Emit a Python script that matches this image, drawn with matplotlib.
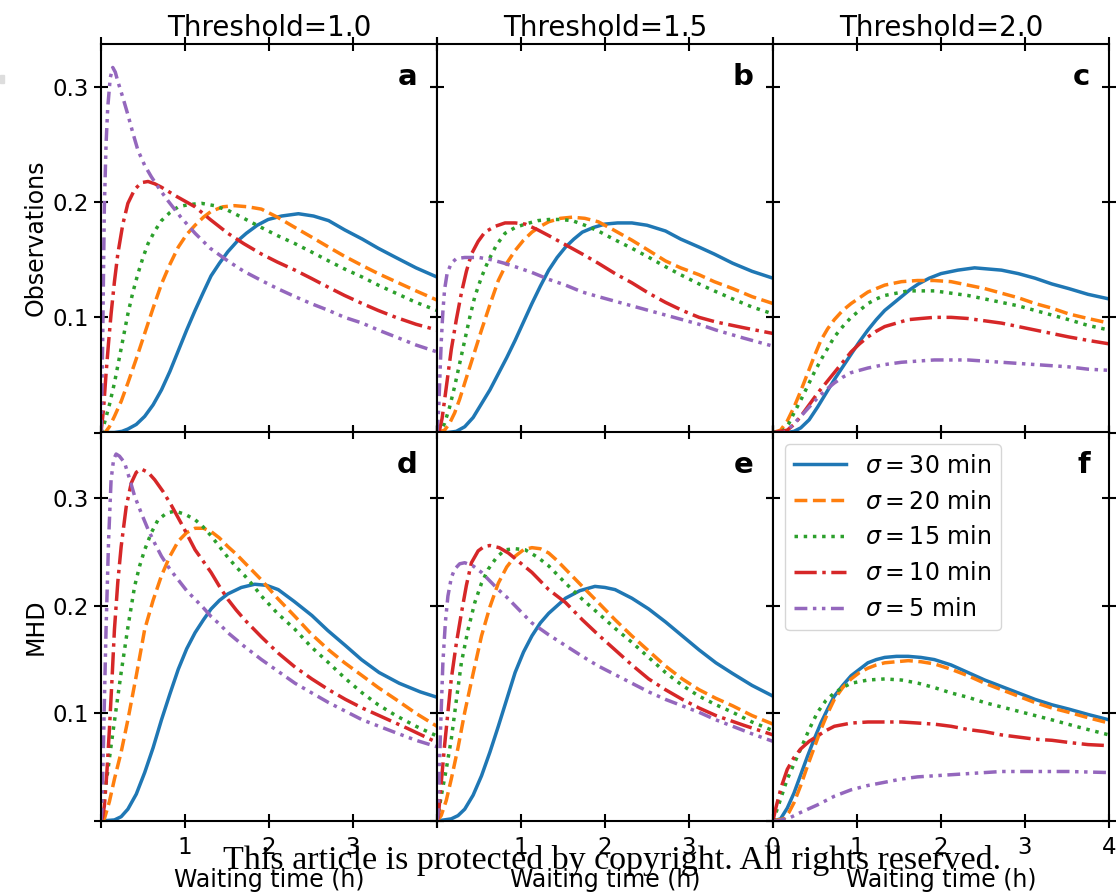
import matplotlib
matplotlib.use("Agg")
import matplotlib.pyplot as plt
from matplotlib.patches import Rectangle

# ---------------- data ----------------
thresholds = ["Threshold=1.0", "Threshold=1.5", "Threshold=2.0"]
row_labels = ["Observations", "MHD"]
panel_letters = ["a", "b", "c", "d", "e", "f"]
sigma_labels = [r"$\sigma = 30$ min", r"$\sigma = 20$ min", r"$\sigma = 15$ min",
                r"$\sigma = 10$ min", r"$\sigma = 5$ min"]
xticks = [0, 1, 2, 3, 4]
yticks = [0, 0.1, 0.2, 0.3]
ytick_labels = ["", "0.1", "0.2", "0.3"]

# Panel a (Observations, threshold 1.0)
a30x = [0, 0.16, 0.25, 0.32, 0.42, 0.52, 0.62, 0.72, 0.82, 0.92, 1.02, 1.12, 1.22, 1.31, 1.41, 1.51, 1.62, 1.73, 1.86, 1.99, 2.15, 2.35, 2.53, 2.71, 2.9, 3.11, 3.3, 3.51, 3.75, 4.0]
a30y = [0, 0, 0.001, 0.003, 0.007, 0.014, 0.024, 0.037, 0.053, 0.071, 0.089, 0.106, 0.122, 0.136, 0.147, 0.157, 0.166, 0.173, 0.180, 0.185, 0.188, 0.190, 0.188, 0.184, 0.176, 0.168, 0.160, 0.152, 0.143, 0.135]
a20x = [0, 0.05, 0.1, 0.16, 0.24, 0.32, 0.42, 0.52, 0.62, 0.72, 0.82, 0.92, 1.02, 1.12, 1.22, 1.31, 1.45, 1.59, 1.75, 1.91, 2.1, 2.31, 2.5, 2.71, 2.9, 3.11, 3.3, 3.51, 3.75, 4.0]
a20y = [0, 0.0, 0.005, 0.014, 0.027, 0.043, 0.064, 0.086, 0.108, 0.129, 0.146, 0.161, 0.172, 0.180, 0.187, 0.192, 0.196, 0.197, 0.196, 0.194, 0.187, 0.178, 0.170, 0.161, 0.153, 0.145, 0.138, 0.131, 0.123, 0.115]
a15x = [0, 0.04, 0.1, 0.16, 0.24, 0.32, 0.38, 0.44, 0.5, 0.56, 0.64, 0.72, 0.82, 0.92, 1.05, 1.2, 1.35, 1.51, 1.7, 1.91, 2.1, 2.31, 2.5, 2.71, 2.9, 3.11, 3.3, 3.51, 3.75, 4.0]
a15y = [0, 0.008, 0.024, 0.043, 0.073, 0.103, 0.122, 0.138, 0.152, 0.164, 0.175, 0.184, 0.191, 0.196, 0.198, 0.199, 0.197, 0.193, 0.186, 0.178, 0.171, 0.164, 0.157, 0.149, 0.142, 0.135, 0.128, 0.121, 0.113, 0.106]
a10x = [0, 0.03, 0.06, 0.09, 0.12, 0.16, 0.2, 0.26, 0.32, 0.4, 0.48, 0.56, 0.64, 0.72, 0.9, 1.12, 1.3, 1.51, 1.7, 1.91, 2.1, 2.31, 2.5, 2.71, 2.9, 3.11, 3.3, 3.51, 3.75, 4.0]
a10y = [0, 0.02, 0.051, 0.078, 0.103, 0.131, 0.155, 0.181, 0.199, 0.211, 0.217, 0.218, 0.216, 0.213, 0.205, 0.196, 0.185, 0.173, 0.164, 0.155, 0.148, 0.141, 0.134, 0.126, 0.119, 0.112, 0.106, 0.100, 0.094, 0.089]
a5x = [0, 0.01, 0.02, 0.03, 0.04, 0.06, 0.08, 0.11, 0.14, 0.17, 0.2, 0.26, 0.32, 0.38, 0.44, 0.52, 0.6, 0.7, 0.8, 0.95, 1.12, 1.3, 1.51, 1.7, 1.91, 2.1, 2.31, 2.5, 2.71, 2.9, 3.11, 3.3, 3.51, 3.75, 4.0]
a5y = [0, 0.03, 0.08, 0.14, 0.196, 0.25, 0.282, 0.308, 0.317, 0.313, 0.305, 0.291, 0.276, 0.26, 0.245, 0.232, 0.222, 0.211, 0.201, 0.187, 0.173, 0.160, 0.149, 0.140, 0.132, 0.125, 0.118, 0.112, 0.106, 0.100, 0.095, 0.089, 0.083, 0.076, 0.070]

# Panel b (Observations, threshold 1.5)
b30x = [0, 0.13, 0.23, 0.33, 0.43, 0.53, 0.63, 0.73, 0.83, 0.93, 1.03, 1.13, 1.23, 1.33, 1.43, 1.53, 1.63, 1.73, 1.86, 2.0, 2.15, 2.32, 2.5, 2.72, 2.9, 3.12, 3.3, 3.52, 3.75, 4.0]
b30y = [0, 0, 0.001, 0.005, 0.013, 0.025, 0.037, 0.051, 0.065, 0.080, 0.096, 0.112, 0.127, 0.141, 0.152, 0.161, 0.168, 0.174, 0.178, 0.181, 0.182, 0.182, 0.180, 0.175, 0.168, 0.161, 0.155, 0.147, 0.140, 0.134]
b20x = [0, 0.09, 0.15, 0.21, 0.27, 0.33, 0.43, 0.53, 0.63, 0.73, 0.83, 0.93, 1.03, 1.13, 1.23, 1.33, 1.47, 1.61, 1.76, 1.92, 2.1, 2.32, 2.5, 2.72, 2.9, 3.12, 3.3, 3.52, 3.75, 4.0]
b20y = [0, 0.002, 0.008, 0.017, 0.029, 0.043, 0.066, 0.089, 0.111, 0.132, 0.147, 0.158, 0.167, 0.174, 0.179, 0.183, 0.186, 0.187, 0.186, 0.183, 0.176, 0.167, 0.159, 0.149, 0.143, 0.137, 0.131, 0.125, 0.118, 0.112]
b15x = [0, 0.05, 0.09, 0.15, 0.21, 0.27, 0.33, 0.39, 0.45, 0.53, 0.61, 0.71, 0.81, 0.93, 1.05, 1.2, 1.33, 1.47, 1.61, 1.76, 1.92, 2.1, 2.32, 2.5, 2.72, 2.9, 3.12, 3.3, 3.52, 3.75, 4.0]
b15y = [0, 0.002, 0.008, 0.022, 0.040, 0.060, 0.080, 0.100, 0.118, 0.135, 0.149, 0.163, 0.173, 0.178, 0.181, 0.184, 0.185, 0.185, 0.184, 0.180, 0.175, 0.168, 0.160, 0.153, 0.144, 0.137, 0.129, 0.123, 0.116, 0.109, 0.103]
b10x = [0, 0.03, 0.06, 0.09, 0.13, 0.17, 0.23, 0.29, 0.35, 0.41, 0.49, 0.57, 0.69, 0.81, 0.93, 1.05, 1.2, 1.33, 1.53, 1.73, 1.92, 2.12, 2.32, 2.52, 2.72, 2.92, 3.12, 3.32, 3.65, 4.0]
b10y = [0, 0.002, 0.012, 0.028, 0.050, 0.072, 0.098, 0.121, 0.140, 0.155, 0.166, 0.174, 0.179, 0.182, 0.182, 0.181, 0.176, 0.171, 0.163, 0.155, 0.147, 0.138, 0.130, 0.121, 0.113, 0.106, 0.100, 0.096, 0.091, 0.086]
b5x = [0, 0.02, 0.035, 0.05, 0.07, 0.09, 0.12, 0.17, 0.23, 0.33, 0.5, 0.65, 0.8, 0.93, 1.13, 1.33, 1.53, 1.73, 1.92, 2.12, 2.32, 2.52, 2.72, 2.92, 3.12, 3.32, 3.65, 4.0]
b5y = [0, 0.02, 0.05, 0.078, 0.105, 0.124, 0.138, 0.147, 0.151, 0.152, 0.152, 0.150, 0.147, 0.144, 0.139, 0.133, 0.128, 0.122, 0.118, 0.114, 0.110, 0.106, 0.102, 0.098, 0.094, 0.089, 0.082, 0.075]

# Panel c (Observations, threshold 2.0)
c30x = [0, 0.17, 0.25, 0.33, 0.43, 0.53, 0.63, 0.73, 0.83, 0.93, 1.03, 1.13, 1.23, 1.33, 1.43, 1.53, 1.63, 1.73, 1.86, 2.0, 2.2, 2.4, 2.56, 2.72, 2.92, 3.12, 3.32, 3.52, 3.75, 4.0]
c30y = [0, 0, 0.001, 0.004, 0.011, 0.022, 0.034, 0.046, 0.057, 0.068, 0.079, 0.089, 0.098, 0.106, 0.112, 0.118, 0.124, 0.129, 0.134, 0.138, 0.141, 0.143, 0.142, 0.141, 0.138, 0.134, 0.129, 0.125, 0.120, 0.116]
c20x = [0, 0.09, 0.17, 0.25, 0.33, 0.41, 0.49, 0.57, 0.65, 0.73, 0.83, 0.93, 1.03, 1.13, 1.23, 1.33, 1.53, 1.72, 1.92, 2.12, 2.32, 2.52, 2.72, 2.92, 3.12, 3.32, 3.52, 3.75, 4.0]
c20y = [0, 0.002, 0.010, 0.022, 0.036, 0.051, 0.066, 0.080, 0.090, 0.098, 0.106, 0.112, 0.117, 0.122, 0.125, 0.128, 0.131, 0.132, 0.132, 0.131, 0.128, 0.125, 0.121, 0.117, 0.112, 0.108, 0.103, 0.099, 0.095]
c15x = [0, 0.13, 0.19, 0.25, 0.33, 0.41, 0.49, 0.57, 0.65, 0.73, 0.83, 0.93, 1.03, 1.13, 1.23, 1.33, 1.47, 1.61, 1.92, 2.12, 2.32, 2.52, 2.72, 2.92, 3.12, 3.32, 3.52, 3.75, 4.0]
c15y = [0, 0.002, 0.008, 0.017, 0.028, 0.040, 0.052, 0.063, 0.073, 0.083, 0.092, 0.100, 0.106, 0.112, 0.116, 0.119, 0.121, 0.123, 0.123, 0.121, 0.119, 0.116, 0.113, 0.110, 0.106, 0.102, 0.098, 0.093, 0.089]
c10x = [0, 0.17, 0.25, 0.33, 0.43, 0.53, 0.63, 0.73, 0.83, 0.93, 1.03, 1.13, 1.23, 1.33, 1.47, 1.61, 1.76, 1.92, 2.12, 2.32, 2.52, 2.72, 2.92, 3.12, 3.32, 3.52, 3.75, 4.0]
c10y = [0, 0.002, 0.007, 0.014, 0.024, 0.034, 0.043, 0.052, 0.061, 0.070, 0.077, 0.083, 0.088, 0.092, 0.095, 0.098, 0.099, 0.100, 0.100, 0.099, 0.097, 0.095, 0.092, 0.089, 0.086, 0.083, 0.080, 0.077]
c5x = [0, 0.13, 0.23, 0.33, 0.43, 0.53, 0.63, 0.73, 0.83, 0.93, 1.03, 1.13, 1.33, 1.53, 1.72, 1.92, 2.12, 2.32, 2.52, 2.72, 2.92, 3.12, 3.32, 3.52, 3.75, 4.0]
c5y = [0, 0.0, 0.006, 0.014, 0.022, 0.030, 0.037, 0.043, 0.048, 0.052, 0.054, 0.056, 0.059, 0.061, 0.062, 0.063, 0.063, 0.063, 0.062, 0.061, 0.060, 0.059, 0.058, 0.057, 0.055, 0.054]

# Panel d (MHD, threshold 1.0)
d30x = [0, 0.16, 0.24, 0.32, 0.42, 0.52, 0.62, 0.72, 0.82, 0.92, 1.02, 1.12, 1.22, 1.31, 1.41, 1.51, 1.67, 1.83, 1.97, 2.11, 2.3, 2.51, 2.7, 2.91, 3.1, 3.31, 3.55, 3.8, 4.0]
d30y = [0, 0.001, 0.004, 0.011, 0.025, 0.045, 0.068, 0.094, 0.118, 0.141, 0.160, 0.175, 0.187, 0.197, 0.205, 0.211, 0.217, 0.220, 0.219, 0.215, 0.204, 0.191, 0.177, 0.163, 0.150, 0.138, 0.128, 0.120, 0.115]
d20x = [0, 0.04, 0.1, 0.16, 0.24, 0.32, 0.42, 0.52, 0.62, 0.72, 0.82, 0.92, 1.02, 1.12, 1.22, 1.31, 1.41, 1.51, 1.61, 1.71, 1.81, 1.91, 2.1, 2.31, 2.5, 2.71, 2.9, 3.11, 3.3, 3.51, 3.75, 4.0]
d20y = [0, 0.002, 0.018, 0.039, 0.064, 0.094, 0.135, 0.178, 0.205, 0.228, 0.246, 0.260, 0.268, 0.272, 0.272, 0.269, 0.263, 0.255, 0.248, 0.240, 0.232, 0.224, 0.207, 0.190, 0.174, 0.159, 0.147, 0.135, 0.124, 0.113, 0.100, 0.088]
d15x = [0, 0.04, 0.08, 0.12, 0.18, 0.24, 0.32, 0.4, 0.46, 0.52, 0.6, 0.68, 0.78, 0.88, 1.0, 1.12, 1.22, 1.31, 1.41, 1.51, 1.61, 1.71, 1.81, 1.91, 2.1, 2.31, 2.5, 2.71, 2.9, 3.11, 3.3, 3.51, 3.75, 4.0]
d15y = [0, 0.023, 0.046, 0.070, 0.104, 0.138, 0.180, 0.218, 0.237, 0.252, 0.268, 0.280, 0.286, 0.288, 0.285, 0.280, 0.273, 0.265, 0.255, 0.245, 0.236, 0.228, 0.219, 0.209, 0.193, 0.178, 0.162, 0.147, 0.133, 0.119, 0.108, 0.098, 0.088, 0.079]
d10x = [0, 0.02, 0.04, 0.07, 0.1, 0.13, 0.16, 0.2, 0.24, 0.3, 0.36, 0.42, 0.48, 0.56, 0.64, 0.74, 0.84, 0.98, 1.12, 1.22, 1.31, 1.41, 1.51, 1.61, 1.71, 1.91, 2.11, 2.31, 2.51, 2.71, 2.91, 3.11, 3.31, 3.65, 4.0]
d10y = [0, 0.004, 0.014, 0.045, 0.085, 0.13, 0.178, 0.222, 0.255, 0.292, 0.314, 0.324, 0.327, 0.324, 0.317, 0.306, 0.293, 0.273, 0.252, 0.241, 0.231, 0.218, 0.206, 0.196, 0.187, 0.171, 0.156, 0.143, 0.132, 0.122, 0.113, 0.105, 0.098, 0.086, 0.073]
d5x = [0, 0.01, 0.02, 0.04, 0.06, 0.09, 0.12, 0.15, 0.18, 0.22, 0.28, 0.34, 0.4, 0.48, 0.56, 0.64, 0.72, 0.82, 0.92, 1.02, 1.12, 1.22, 1.31, 1.41, 1.51, 1.71, 1.91, 2.11, 2.31, 2.51, 2.71, 2.91, 3.11, 3.31, 3.51, 3.75, 4.0]
d5y = [0, 0.01, 0.039, 0.11, 0.178, 0.26, 0.317, 0.336, 0.341, 0.339, 0.333, 0.318, 0.302, 0.286, 0.271, 0.258, 0.246, 0.234, 0.224, 0.214, 0.206, 0.198, 0.190, 0.183, 0.175, 0.162, 0.150, 0.139, 0.128, 0.119, 0.110, 0.102, 0.094, 0.088, 0.082, 0.075, 0.069]

# Panel e (MHD, threshold 1.5)
e30x = [0, 0.17, 0.25, 0.33, 0.43, 0.53, 0.63, 0.73, 0.83, 0.93, 1.03, 1.13, 1.23, 1.33, 1.43, 1.53, 1.7, 1.88, 2.0, 2.12, 2.32, 2.52, 2.72, 2.92, 3.12, 3.32, 3.52, 3.75, 4.0]
e30y = [0, 0.002, 0.005, 0.011, 0.024, 0.042, 0.064, 0.088, 0.113, 0.138, 0.157, 0.172, 0.184, 0.193, 0.200, 0.207, 0.214, 0.218, 0.217, 0.215, 0.207, 0.197, 0.185, 0.172, 0.159, 0.147, 0.137, 0.126, 0.116]
e20x = [0, 0.05, 0.11, 0.17, 0.25, 0.33, 0.43, 0.53, 0.63, 0.73, 0.83, 0.93, 1.03, 1.13, 1.23, 1.33, 1.43, 1.53, 1.63, 1.73, 1.92, 2.12, 2.32, 2.52, 2.72, 2.92, 3.12, 3.32, 3.52, 3.75, 4.0]
e20y = [0, 0.005, 0.019, 0.039, 0.068, 0.101, 0.137, 0.172, 0.199, 0.221, 0.236, 0.246, 0.252, 0.254, 0.253, 0.249, 0.242, 0.234, 0.226, 0.218, 0.203, 0.187, 0.172, 0.158, 0.144, 0.132, 0.122, 0.114, 0.107, 0.098, 0.090]
e15x = [0, 0.05, 0.11, 0.17, 0.23, 0.29, 0.37, 0.45, 0.53, 0.61, 0.71, 0.81, 0.93, 1.05, 1.2, 1.33, 1.43, 1.53, 1.73, 1.92, 2.12, 2.32, 2.52, 2.72, 2.92, 3.12, 3.32, 3.52, 3.75, 4.0]
e15y = [0, 0.023, 0.048, 0.076, 0.112, 0.147, 0.178, 0.203, 0.221, 0.234, 0.245, 0.252, 0.253, 0.252, 0.245, 0.237, 0.229, 0.221, 0.206, 0.193, 0.179, 0.166, 0.152, 0.138, 0.126, 0.116, 0.108, 0.101, 0.092, 0.084]
e10x = [0, 0.015, 0.03, 0.06, 0.09, 0.13, 0.17, 0.23, 0.29, 0.35, 0.41, 0.49, 0.56, 0.63, 0.74, 0.85, 0.99, 1.13, 1.23, 1.33, 1.43, 1.53, 1.73, 1.92, 2.12, 2.32, 2.52, 2.72, 2.92, 3.12, 3.32, 3.65, 4.0]
e10y = [0, 0.004, 0.017, 0.044, 0.070, 0.101, 0.132, 0.165, 0.193, 0.219, 0.240, 0.251, 0.255, 0.256, 0.254, 0.249, 0.240, 0.231, 0.223, 0.215, 0.209, 0.203, 0.187, 0.173, 0.159, 0.145, 0.132, 0.122, 0.113, 0.105, 0.098, 0.089, 0.080]
e5x = [0, 0.01, 0.02, 0.04, 0.07, 0.1, 0.13, 0.17, 0.21, 0.27, 0.33, 0.43, 0.53, 0.63, 0.73, 0.83, 0.93, 1.03, 1.13, 1.33, 1.53, 1.73, 1.92, 2.12, 2.32, 2.52, 2.72, 2.92, 3.12, 3.32, 3.52, 3.75, 4.0]
e5y = [0, 0.005, 0.023, 0.08, 0.147, 0.185, 0.209, 0.226, 0.234, 0.239, 0.240, 0.237, 0.231, 0.223, 0.215, 0.208, 0.200, 0.192, 0.184, 0.173, 0.163, 0.153, 0.144, 0.136, 0.128, 0.120, 0.113, 0.107, 0.101, 0.094, 0.088, 0.081, 0.074]

# Panel f (MHD, threshold 2.0)
f30x = [0, 0.09, 0.17, 0.25, 0.33, 0.41, 0.49, 0.57, 0.65, 0.73, 0.83, 0.93, 1.03, 1.13, 1.23, 1.33, 1.47, 1.61, 1.76, 1.92, 2.12, 2.32, 2.52, 2.72, 2.92, 3.12, 3.32, 3.52, 3.75, 4.0]
f30y = [0, 0.002, 0.012, 0.026, 0.043, 0.060, 0.076, 0.091, 0.104, 0.116, 0.126, 0.135, 0.141, 0.147, 0.150, 0.152, 0.153, 0.153, 0.152, 0.150, 0.145, 0.138, 0.131, 0.125, 0.119, 0.113, 0.108, 0.104, 0.099, 0.094]
f20x = [0, 0.13, 0.19, 0.25, 0.33, 0.41, 0.49, 0.57, 0.65, 0.73, 0.83, 0.93, 1.03, 1.13, 1.23, 1.33, 1.47, 1.61, 1.76, 1.92, 2.12, 2.32, 2.52, 2.72, 2.92, 3.12, 3.32, 3.52, 3.75, 4.0]
f20y = [0, 0.002, 0.008, 0.017, 0.033, 0.051, 0.068, 0.085, 0.100, 0.113, 0.124, 0.132, 0.138, 0.142, 0.145, 0.147, 0.148, 0.149, 0.148, 0.146, 0.141, 0.135, 0.128, 0.122, 0.116, 0.110, 0.105, 0.101, 0.096, 0.091]
f15x = [0, 0.05, 0.11, 0.17, 0.25, 0.33, 0.43, 0.53, 0.63, 0.73, 0.83, 0.93, 1.13, 1.33, 1.53, 1.73, 1.92, 2.12, 2.32, 2.52, 2.72, 2.92, 3.12, 3.32, 3.65, 4.0]
f15y = [0, 0.011, 0.025, 0.039, 0.053, 0.067, 0.085, 0.101, 0.112, 0.119, 0.124, 0.128, 0.131, 0.132, 0.131, 0.128, 0.124, 0.119, 0.115, 0.110, 0.106, 0.102, 0.098, 0.094, 0.087, 0.080]
f10x = [0, 0.03, 0.1, 0.17, 0.25, 0.33, 0.43, 0.53, 0.63, 0.73, 0.93, 1.13, 1.33, 1.53, 1.73, 1.92, 2.12, 2.32, 2.52, 2.72, 2.92, 3.12, 3.32, 3.52, 3.75, 4.0]
f10y = [0, 0.011, 0.032, 0.048, 0.059, 0.067, 0.074, 0.079, 0.084, 0.088, 0.091, 0.092, 0.092, 0.092, 0.091, 0.090, 0.088, 0.085, 0.083, 0.080, 0.078, 0.076, 0.075, 0.073, 0.071, 0.070]
f5x = [0, 0.05, 0.2, 0.33, 0.53, 0.73, 0.93, 1.13, 1.33, 1.53, 1.72, 1.92, 2.12, 2.32, 2.52, 2.72, 3.12, 3.52, 4.0]
f5y = [0, 0.0, 0.003, 0.008, 0.015, 0.023, 0.029, 0.033, 0.036, 0.039, 0.041, 0.042, 0.043, 0.044, 0.045, 0.046, 0.046, 0.046, 0.045]

panels = [
    [(a30x, a30y), (a20x, a20y), (a15x, a15y), (a10x, a10y), (a5x, a5y)],
    [(b30x, b30y), (b20x, b20y), (b15x, b15y), (b10x, b10y), (b5x, b5y)],
    [(c30x, c30y), (c20x, c20y), (c15x, c15y), (c10x, c10y), (c5x, c5y)],
    [(d30x, d30y), (d20x, d20y), (d15x, d15y), (d10x, d10y), (d5x, d5y)],
    [(e30x, e30y), (e20x, e20y), (e15x, e15y), (e10x, e10y), (e5x, e5y)],
    [(f30x, f30y), (f20x, f20y), (f15x, f15y), (f10x, f10y), (f5x, f5y)],
]

# ---------------- styles ----------------
colors = ["#1f77b4", "#ff7f0e", "#2ca02c", "#d62728", "#9467bd"]
styles = ["-", "--", ":", "-.", (0, (3.7, 1.6, 1, 1.6, 1, 1.6))]
row_ylim = [0.3374, 0.361]

fig, axes = plt.subplots(2, 3, figsize=(11.17, 8.92), dpi=100)
fig.subplots_adjust(left=101 / 1117, right=1109 / 1117, top=1 - 44 / 892,
                    bottom=1 - 821 / 892, wspace=0, hspace=0)

for i in range(6):
    r, c = divmod(i, 3)
    ax = axes[r, c]
    for k, (xs, ys) in enumerate(panels[i]):
        ax.plot(xs, ys, color=colors[k], linestyle=styles[k], lw=2.5,
                label=sigma_labels[k])
    ax.set_xlim(0, 4)
    ax.set_ylim(0, row_ylim[r])
    ax.set_xticks(xticks)
    ax.set_yticks(yticks)
    ax.tick_params(direction="inout", length=10, width=1.5, top=True, right=True,
                   labelsize=16.5)
    ax.tick_params(axis="x", pad=6)
    for sp in ax.spines.values():
        sp.set_linewidth(1.5)
    if c == 0:
        ax.set_yticklabels(ytick_labels)
        ax.set_ylabel(row_labels[r], fontsize=17)
    else:
        ax.set_yticklabels([])
    if r == 1:
        if c == 2:
            ax.set_xticklabels([str(t) for t in xticks])
        else:
            ax.set_xticklabels(["", "1", "2", "3", ""])
        ax.set_xlabel("Waiting time (h)", fontsize=17, labelpad=6)
    else:
        ax.set_xticklabels([])
        ax.set_title(thresholds[c], fontsize=20)
    ax.text(0.943, 0.952, panel_letters[i], transform=ax.transAxes, ha="right",
            va="top", fontsize=21, fontweight="bold")

axes[1, 2].legend(loc="upper left", fontsize=17, handlelength=2.2,
                  framealpha=0.8, labelspacing=0.5)

fig.text(0.548, 1 - 869 / 892, "This article is protected by copyright. All rights reserved.",
         ha="center", va="baseline", fontsize=24.5, family="Liberation Serif")
fig.patches.append(Rectangle((0, 1 - 83 / 892), 4 / 1117, 8 / 892,
                             transform=fig.transFigure, color="#dddddd"))

fig.savefig("out.png", dpi=100)
